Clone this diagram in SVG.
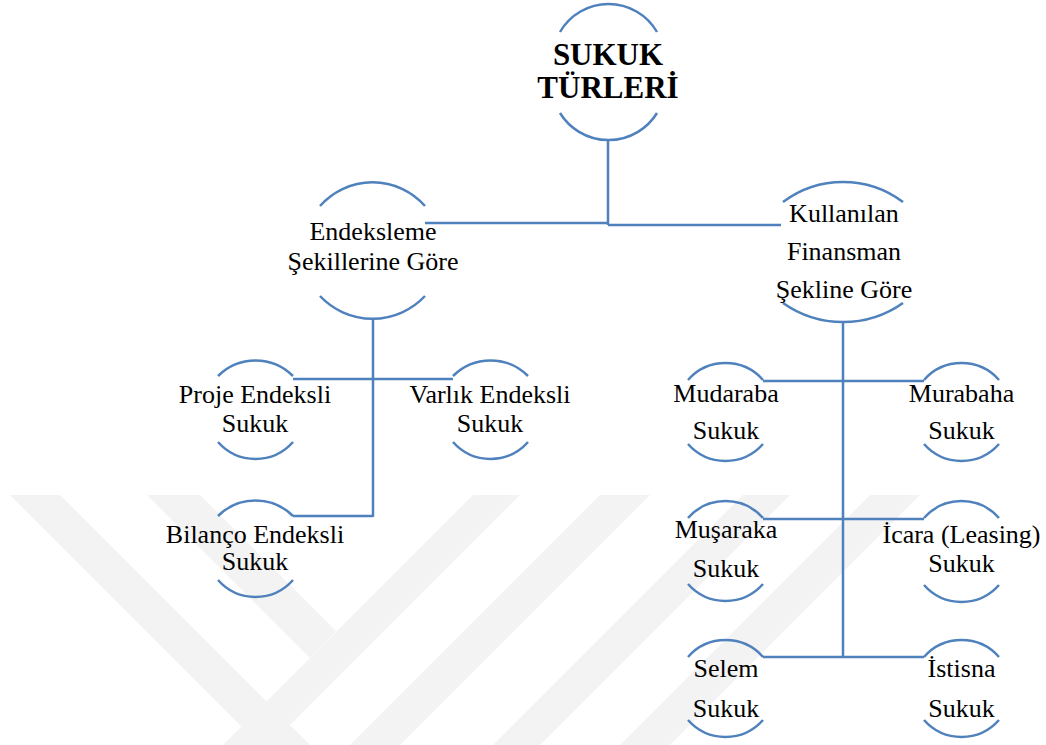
<svg xmlns="http://www.w3.org/2000/svg" width="1046" height="745" viewBox="0 0 1046 745">
  <style>
    .bg { fill: #ffffff; }
    .wm { fill: #f3f3f3; }
    .arc { fill: none; stroke: #4f81bd; stroke-width: 2.5; }
    .link { fill: none; stroke: #4f81bd; stroke-width: 2.5; }
    .t { font-family: "Liberation Serif", "Times New Roman", serif; font-size: 26px; fill: #000; text-anchor: middle; }
    .title { font-family: "Liberation Serif", "Times New Roman", serif; font-size: 31px; font-weight: bold; fill: #000; text-anchor: middle; }
  </style>

  <rect class="bg" x="0" y="0" width="1046" height="745"/>

  <!-- faint background watermark bands -->
  <g id="watermark">
    <polygon class="wm" points="10,495 60,495 310,745 260,745"/>
    <polygon class="wm" points="147,495 200,495 336,631 310,658"/>
    <polygon class="wm" points="473,495 520,495 270,745 223,745"/>
    <polygon class="wm" points="600,495 650,495 400,745 350,745"/>
    <polygon class="wm" points="743,495 790,495 540,745 493,745"/>
    <polygon class="wm" points="870,495 920,495 670,745 620,745"/>
  </g>

  <!-- connectors -->
  <g id="connectors">
    <path class="link" d="M608,140 V225"/>
    <path class="link" d="M425,223 H608"/>
    <path class="link" d="M608,225 H781"/>
    <path class="link" d="M373,318 V517"/>
    <path class="link" d="M293,379 H453"/>
    <path class="link" d="M293,516 H373"/>
    <path class="link" d="M843,322 V658"/>
    <path class="link" d="M763,381 H924"/>
    <path class="link" d="M763,519 H924"/>
    <path class="link" d="M763,657 H924"/>
  </g>

  <g id="root">
    <path class="arc" d="M560,32 A56,56 0 0 1 657,32"/>
    <path class="arc" d="M560,113 A57,57 0 0 0 657,113"/>
    <text class="title" x="608" y="65">SUKUK</text>
    <text class="title" x="608" y="98">TÜRLERİ</text>
  </g>

  <g id="endeksleme">
    <path class="arc" d="M320,206 A70,70 0 0 1 425,206"/>
    <path class="arc" d="M320,296 A72,72 0 0 0 425,296"/>
    <text class="t" x="373" y="240">Endeksleme</text>
    <text class="t" x="373" y="270">Şekillerine Göre</text>
  </g>

  <g id="finansman">
    <path class="arc" d="M783,202 A100,100 0 0 1 903,202"/>
    <path class="arc" d="M783,303 A104,104 0 0 0 903,303"/>
    <text class="t" x="844" y="222">Kullanılan</text>
    <text class="t" x="844" y="260">Finansman</text>
    <text class="t" x="844" y="298">Şekline Göre</text>
  </g>

  <g id="proje">
    <path class="arc" d="M218,376 A53,53 0 0 1 293,376"/>
    <path class="arc" d="M218,442 A50,50 0 0 0 293,442"/>
    <text class="t" x="255" y="403">Proje Endeksli</text>
    <text class="t" x="255" y="432">Sukuk</text>
  </g>

  <g id="varlik">
    <path class="arc" d="M453,376 A53,53 0 0 1 528,376"/>
    <path class="arc" d="M453,442 A50,50 0 0 0 528,442"/>
    <text class="t" x="490" y="403">Varlık Endeksli</text>
    <text class="t" x="490" y="432">Sukuk</text>
  </g>

  <g id="bilanco">
    <path class="arc" d="M218,516 A53,53 0 0 1 293,516"/>
    <path class="arc" d="M218,580 A50,50 0 0 0 293,580"/>
    <text class="t" x="255" y="543">Bilanço Endeksli</text>
    <text class="t" x="255" y="570">Sukuk</text>
  </g>

  <g id="mudaraba">
    <path class="arc" d="M688,380 A50,50 0 0 1 763,380"/>
    <path class="arc" d="M688,444 A50,50 0 0 0 763,444"/>
    <text class="t" x="726" y="402">Mudaraba</text>
    <text class="t" x="726" y="439">Sukuk</text>
  </g>

  <g id="murabaha">
    <path class="arc" d="M924,380 A50,50 0 0 1 999,380"/>
    <path class="arc" d="M924,444 A50,50 0 0 0 999,444"/>
    <text class="t" x="961.5" y="402">Murabaha</text>
    <text class="t" x="961.5" y="439">Sukuk</text>
  </g>

  <g id="musaraka">
    <path class="arc" d="M688,518 A50,50 0 0 1 763,518"/>
    <path class="arc" d="M688,584 A50,50 0 0 0 763,584"/>
    <text class="t" x="726" y="538">Muşaraka</text>
    <text class="t" x="726" y="577">Sukuk</text>
  </g>

  <g id="icara">
    <path class="arc" d="M924,518 A50,50 0 0 1 999,518"/>
    <path class="arc" d="M924,585 A50,50 0 0 0 999,585"/>
    <text class="t" x="961.5" y="543">İcara (Leasing)</text>
    <text class="t" x="961.5" y="572">Sukuk</text>
  </g>

  <g id="selem">
    <path class="arc" d="M688,657 A50,50 0 0 1 763,657"/>
    <path class="arc" d="M688,720 A50,50 0 0 0 763,720"/>
    <text class="t" x="726" y="677">Selem</text>
    <text class="t" x="726" y="717">Sukuk</text>
  </g>

  <g id="istisna">
    <path class="arc" d="M924,657 A50,50 0 0 1 999,657"/>
    <path class="arc" d="M924,720 A50,50 0 0 0 999,720"/>
    <text class="t" x="961.5" y="677">İstisna</text>
    <text class="t" x="961.5" y="717">Sukuk</text>
  </g>
</svg>
